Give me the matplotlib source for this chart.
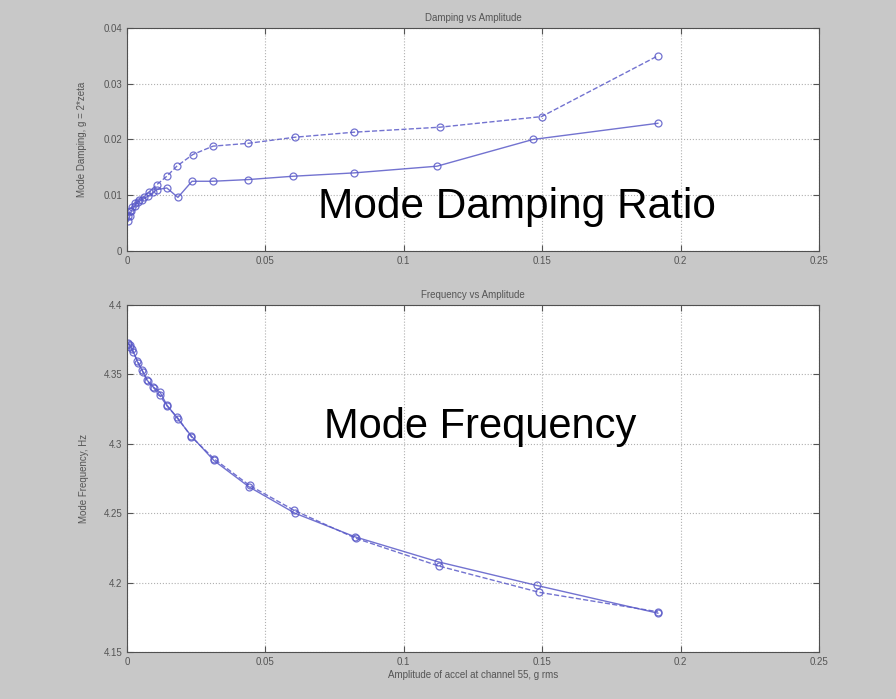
import matplotlib

matplotlib.use("Agg")

import matplotlib.pyplot as plt

plt.rcParams["font.family"] = ["Liberation Sans", "DejaVu Sans"]

# damping vs amplitude (two identification runs)
damp_amp_dashed = [0.0005, 0.001, 0.0018, 0.003, 0.0045, 0.006, 0.008, 0.0108,
                   0.0144, 0.018, 0.0238, 0.0311, 0.0437, 0.0607, 0.082, 0.1131,
                   0.1498, 0.1918]
damp_dashed = [0.0062, 0.0072, 0.0079, 0.0086, 0.0092, 0.0097, 0.0106, 0.0119,
               0.0134, 0.0152, 0.0173, 0.0188, 0.0193, 0.0204, 0.0213, 0.0222,
               0.0241, 0.0350]
damp_amp_solid = [0.0004, 0.001, 0.0016, 0.0028, 0.004, 0.0055, 0.0075, 0.0095,
                  0.0108, 0.0144, 0.0184, 0.0235, 0.031, 0.0437, 0.060, 0.082,
                  0.112, 0.1467, 0.1918]
damp_solid = [0.0053, 0.0063, 0.0072, 0.0081, 0.0088, 0.0092, 0.0098, 0.0105,
              0.0110, 0.0113, 0.0096, 0.0125, 0.0125, 0.0128, 0.0134, 0.0140,
              0.0152, 0.0200, 0.0229]

# frequency vs amplitude
freq_amp_solid = [0.0005, 0.0011, 0.002, 0.004, 0.0055, 0.0072, 0.0095, 0.012,
                  0.0144, 0.0184, 0.0231, 0.0314, 0.0441, 0.0607, 0.0824, 0.1124,
                  0.148, 0.1918]
freq_solid = [4.372, 4.371, 4.368, 4.358, 4.353, 4.346, 4.341, 4.337, 4.328,
              4.318, 4.306, 4.288, 4.269, 4.250, 4.233, 4.215, 4.198, 4.178]
freq_amp_dashed = [0.0004, 0.0012, 0.0022, 0.0038, 0.0057, 0.0075, 0.0098, 0.0118,
                   0.0146, 0.0182, 0.0233, 0.0316, 0.0443, 0.0605, 0.0826, 0.1126,
                   0.149, 0.1918]
freq_dashed = [4.373, 4.370, 4.366, 4.360, 4.352, 4.345, 4.340, 4.335, 4.327,
               4.319, 4.305, 4.289, 4.270, 4.252, 4.232, 4.212, 4.193, 4.179]

x_ticks = [0, 0.05, 0.1, 0.15, 0.2, 0.25]
x_ticklabels = ["0", "0.05", "0.1", "0.15", "0.2", "0.25"]
damp_ticks = [0, 0.01, 0.02, 0.03, 0.04]
freq_ticks = [4.15, 4.2, 4.25, 4.3, 4.35, 4.4]

line_color = "#5a5ac8"
tick_color = "#555555"

fig = plt.figure(figsize=(8.96, 6.99), dpi=100, facecolor="#c8c8c8")
ax_top = fig.add_axes([0.1417, 0.641, 0.7723, 0.319])
ax_bot = fig.add_axes([0.1417, 0.0672, 0.7723, 0.4964])

style = dict(color=line_color, marker="o", markersize=5, markerfacecolor="none",
             markeredgewidth=0.9, linewidth=1.0, alpha=0.85)

ax_top.plot(damp_amp_dashed, damp_dashed, linestyle="--", **style)
ax_top.plot(damp_amp_solid, damp_solid, linestyle="-", **style)
ax_bot.plot(freq_amp_solid, freq_solid, linestyle="-", **style)
ax_bot.plot(freq_amp_dashed, freq_dashed, linestyle="--", **style)

for ax in (ax_top, ax_bot):
    ax.set_facecolor("white")
    ax.set_xlim(0, 0.25)
    ax.set_xticks(x_ticks)
    ax.set_xticklabels(x_ticklabels)
    ax.grid(True, linestyle=":", color="#b0b0b0", linewidth=0.8)
    ax.tick_params(direction="in", labelsize=7, colors=tick_color, length=4,
                   top=True, right=True)
    for spine in ax.spines.values():
        spine.set_color("#505050")
        spine.set_linewidth(0.8)

ax_top.set_ylim(0, 0.04)
ax_top.set_yticks(damp_ticks)
ax_top.set_yticklabels(["0", "0.01", "0.02", "0.03", "0.04"])
ax_top.set_title("Damping vs Amplitude", fontsize=7, color=tick_color, pad=5)
ax_top.set_ylabel("Mode Damping, g = 2*zeta", fontsize=7, color=tick_color,
                  labelpad=12)
ax_top.text(0.276, 0.148, "Mode Damping Ratio", transform=ax_top.transAxes,
            fontsize=30.5, color="black", va="baseline")

ax_bot.set_ylim(4.15, 4.4)
ax_bot.set_yticks(freq_ticks)
ax_bot.set_yticklabels(["4.15", "4.2", "4.25", "4.3", "4.35", "4.4"])
ax_bot.set_title("Frequency vs Amplitude", fontsize=7, color=tick_color, pad=5)
ax_bot.set_ylabel("Mode Frequency, Hz", fontsize=7, color=tick_color,
                  labelpad=10)
ax_bot.set_xlabel("Amplitude of accel at channel 55, g rms", fontsize=7,
                  color=tick_color, labelpad=2)
ax_bot.text(0.285, 0.618, "Mode Frequency", transform=ax_bot.transAxes,
            fontsize=30, color="black", va="baseline")

fig.savefig("out.png", dpi=100, facecolor=fig.get_facecolor())
